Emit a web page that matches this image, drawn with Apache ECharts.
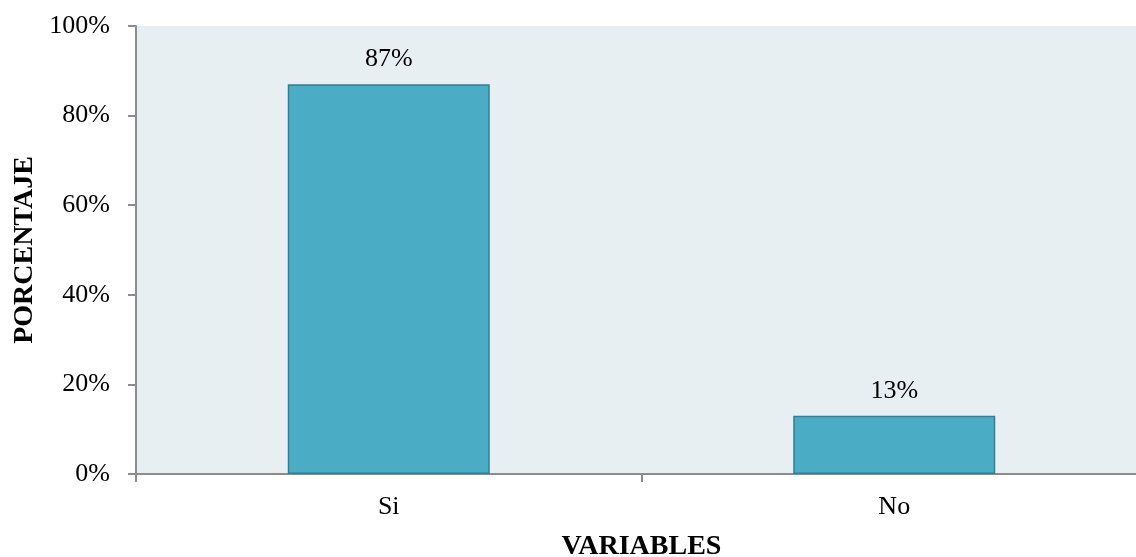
<!DOCTYPE html>
<html>
<head>
<meta charset="utf-8">
<script src="https://cdn.jsdelivr.net/npm/echarts@6/dist/echarts.min.js"></script>
<style>
  html, body { margin: 0; padding: 0; background: #ffffff; }
  #chart { width: 1136px; height: 557px; }
</style>
</head>
<body>
<div id="chart"></div>
<script>
// Respuestas por categoría (porcentaje)
const categories = ['Si', 'No'];
const percentages = [87, 13];
const yTicks = [0, 20, 40, 60, 80, 100];

const serif = '"Liberation Serif", "Times New Roman", serif';
const axisGray = '#8c8c8c';

const chart = echarts.init(document.getElementById('chart'));
chart.setOption({
  animation: false,
  grid: {
    left: 136,
    top: 26,
    width: 1011,
    height: 448,
    outerBoundsMode: 'none',
    containLabel: false,
    show: true,
    backgroundColor: '#e8eff3',
    borderWidth: 0
  },
  xAxis: {
    type: 'category',
    data: categories,
    name: 'VARIABLES',
    nameLocation: 'middle',
    nameGap: 59,
    nameTextStyle: { fontFamily: serif, fontSize: 28, fontWeight: 'bold', color: '#000' },
    axisLine: { lineStyle: { color: axisGray, width: 2 } },
    axisTick: { show: true, length: 8, alignWithLabel: false, lineStyle: { color: axisGray, width: 2 } },
    axisLabel: { fontFamily: serif, fontSize: 26, color: '#000', margin: 20 }
  },
  yAxis: {
    type: 'value',
    min: yTicks[0],
    max: yTicks[yTicks.length - 1],
    interval: 20,
    name: 'PORCENTAJE',
    nameLocation: 'middle',
    nameGap: 96,
    nameRotate: 90,
    nameTextStyle: { fontFamily: serif, fontSize: 28, fontWeight: 'bold', color: '#000' },
    axisLine: { show: true, lineStyle: { color: axisGray, width: 2 } },
    axisTick: { show: true, length: 8, lineStyle: { color: axisGray, width: 2 } },
    splitLine: { show: false },
    axisLabel: {
      fontFamily: serif, fontSize: 26, color: '#000', margin: 26,
      formatter: v => v + '%'
    }
  },
  series: [{
    type: 'bar',
    data: percentages,
    barWidth: 202,
    itemStyle: { color: '#4bacc6', borderColor: '#2f7f95', borderWidth: 1.5 },
    label: {
      show: true,
      position: 'top',
      distance: 12,
      fontFamily: serif,
      fontSize: 26,
      color: '#000',
      formatter: p => p.value + '%'
    }
  }]
});
</script>
</body>
</html>
